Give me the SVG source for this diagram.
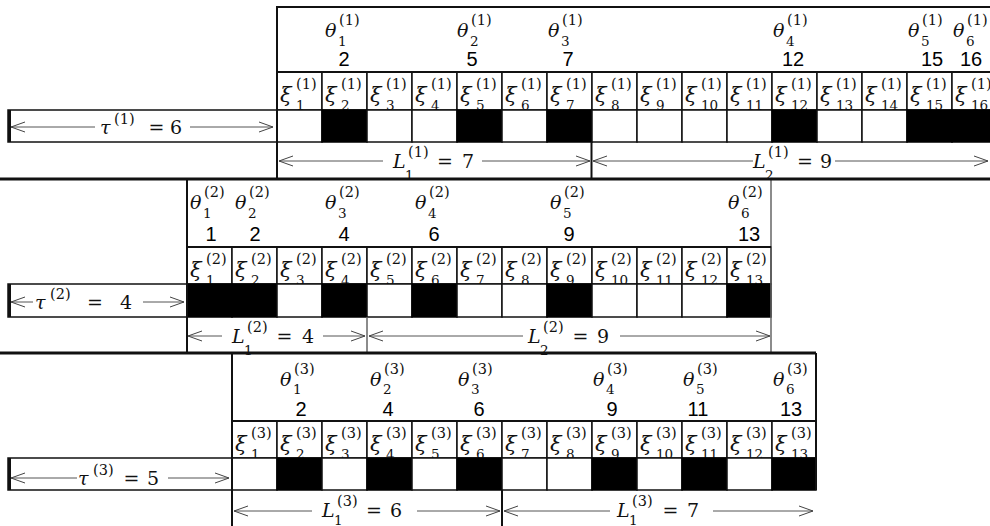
<svg xmlns="http://www.w3.org/2000/svg" width="990" height="526" viewBox="0 0 990 526">
<style>
.c{fill:#fff;stroke:#111;stroke-width:1.5}
.k{fill:#000;stroke:#000;stroke-width:1.5}
.ln{stroke:#111;stroke-width:2;fill:none}
.th{stroke:#111;stroke-width:3;fill:none}
.gl{stroke:#666;stroke-width:1.5;fill:none}
.m{font-family:"DejaVu Serif",serif;font-style:italic;font-size:19px;fill:#111}
.x{font-family:"DejaVu Serif",serif;font-style:italic;font-size:21px;fill:#111}
.sp{font-family:"DejaVu Serif",serif;font-size:14.5px;fill:#111}
.sb{font-family:"DejaVu Serif",serif;font-size:13.5px;fill:#111}
.n{font-family:"Liberation Sans",Arial,sans-serif;font-size:20px;text-anchor:middle;fill:#000}
.eq{font-family:"DejaVu Serif",serif;font-size:19px;text-anchor:middle;fill:#111}
.d{font-family:"DejaVu Serif",serif;font-size:19px;fill:#111}
.a{stroke:#555;stroke-width:1;fill:none;marker-end:url(#ah)}
</style>
<defs>
<marker id="ah" markerWidth="16" markerHeight="12" refX="15" refY="6" orient="auto" markerUnits="userSpaceOnUse"><path d="M1,1 L15,6 L1,11" fill="none" stroke="#444" stroke-width="1"/></marker>
</defs>
<rect width="990" height="526" fill="#fff"/>

<!-- ===== Section 1 ===== -->
<g id="section1">
<g id="s1-xi">
<rect class="c" x="277" y="72" width="45" height="38"/><rect class="c" x="322" y="72" width="45" height="38"/><rect class="c" x="367" y="72" width="45" height="38"/><rect class="c" x="412" y="72" width="45" height="38"/><rect class="c" x="457" y="72" width="45" height="38"/><rect class="c" x="502" y="72" width="45" height="38"/><rect class="c" x="547" y="72" width="45" height="38"/><rect class="c" x="592" y="72" width="45" height="38"/><rect class="c" x="637" y="72" width="45" height="38"/><rect class="c" x="682" y="72" width="45" height="38"/><rect class="c" x="727" y="72" width="45" height="38"/><rect class="c" x="772" y="72" width="45" height="38"/><rect class="c" x="817" y="72" width="45" height="38"/><rect class="c" x="862" y="72" width="45" height="38"/><rect class="c" x="907" y="72" width="45" height="38"/><rect class="c" x="952" y="72" width="45" height="38"/>
<text><tspan class="x" x="280" y="102">ξ</tspan><tspan class="sp" x="296" y="89">(1)</tspan><tspan class="sb" x="296" y="110">1</tspan></text>
<text><tspan class="x" x="325" y="102">ξ</tspan><tspan class="sp" x="341" y="89">(1)</tspan><tspan class="sb" x="341" y="110">2</tspan></text>
<text><tspan class="x" x="370" y="102">ξ</tspan><tspan class="sp" x="386" y="89">(1)</tspan><tspan class="sb" x="386" y="110">3</tspan></text>
<text><tspan class="x" x="415" y="102">ξ</tspan><tspan class="sp" x="431" y="89">(1)</tspan><tspan class="sb" x="431" y="110">4</tspan></text>
<text><tspan class="x" x="460" y="102">ξ</tspan><tspan class="sp" x="476" y="89">(1)</tspan><tspan class="sb" x="476" y="110">5</tspan></text>
<text><tspan class="x" x="505" y="102">ξ</tspan><tspan class="sp" x="521" y="89">(1)</tspan><tspan class="sb" x="521" y="110">6</tspan></text>
<text><tspan class="x" x="550" y="102">ξ</tspan><tspan class="sp" x="566" y="89">(1)</tspan><tspan class="sb" x="566" y="110">7</tspan></text>
<text><tspan class="x" x="595" y="102">ξ</tspan><tspan class="sp" x="611" y="89">(1)</tspan><tspan class="sb" x="611" y="110">8</tspan></text>
<text><tspan class="x" x="640" y="102">ξ</tspan><tspan class="sp" x="656" y="89">(1)</tspan><tspan class="sb" x="656" y="110">9</tspan></text>
<text><tspan class="x" x="685" y="102">ξ</tspan><tspan class="sp" x="701" y="89">(1)</tspan><tspan class="sb" x="701" y="110">10</tspan></text>
<text><tspan class="x" x="730" y="102">ξ</tspan><tspan class="sp" x="746" y="89">(1)</tspan><tspan class="sb" x="746" y="110">11</tspan></text>
<text><tspan class="x" x="775" y="102">ξ</tspan><tspan class="sp" x="791" y="89">(1)</tspan><tspan class="sb" x="791" y="110">12</tspan></text>
<text><tspan class="x" x="820" y="102">ξ</tspan><tspan class="sp" x="836" y="89">(1)</tspan><tspan class="sb" x="836" y="110">13</tspan></text>
<text><tspan class="x" x="865" y="102">ξ</tspan><tspan class="sp" x="881" y="89">(1)</tspan><tspan class="sb" x="881" y="110">14</tspan></text>
<text><tspan class="x" x="910" y="102">ξ</tspan><tspan class="sp" x="926" y="89">(1)</tspan><tspan class="sb" x="926" y="110">15</tspan></text>
<text><tspan class="x" x="955" y="102">ξ</tspan><tspan class="sp" x="971" y="89">(1)</tspan><tspan class="sb" x="971" y="110">16</tspan></text>
</g>
<g id="s1-data">
<rect class="c" x="277" y="110" width="45" height="32"/><rect class="k" x="322" y="110" width="45" height="32"/><rect class="c" x="367" y="110" width="45" height="32"/><rect class="c" x="412" y="110" width="45" height="32"/><rect class="k" x="457" y="110" width="45" height="32"/><rect class="c" x="502" y="110" width="45" height="32"/><rect class="k" x="547" y="110" width="45" height="32"/><rect class="c" x="592" y="110" width="45" height="32"/><rect class="c" x="637" y="110" width="45" height="32"/><rect class="c" x="682" y="110" width="45" height="32"/><rect class="c" x="727" y="110" width="45" height="32"/><rect class="k" x="772" y="110" width="45" height="32"/><rect class="c" x="817" y="110" width="45" height="32"/><rect class="c" x="862" y="110" width="45" height="32"/><rect class="k" x="907" y="110" width="45" height="32"/><rect class="k" x="952" y="110" width="45" height="32"/>
</g>
<g id="s1-tau">
<rect class="c" x="8" y="110" width="269" height="32"/>
<line class="th" x1="9.5" y1="110" x2="9.5" y2="142"/>
</g>
<g id="s1-frame">
<line class="ln" x1="277" y1="7" x2="990" y2="7"/>
<line class="ln" x1="277" y1="6" x2="277" y2="179"/>
<line class="ln" x1="277" y1="72" x2="990" y2="72"/>
<line class="ln" x1="591.5" y1="142" x2="591.5" y2="179"/>
</g>
<g id="s1-theta">
<text><tspan class="m" x="325" y="37">θ</tspan><tspan class="sp" x="339" y="25">(1)</tspan><tspan class="sb" x="338" y="46">1</tspan></text><text class="n" x="344" y="66">2</text>
<text><tspan class="m" x="457" y="37">θ</tspan><tspan class="sp" x="471" y="25">(1)</tspan><tspan class="sb" x="470" y="46">2</tspan></text><text class="n" x="472" y="66">5</text>
<text><tspan class="m" x="548" y="37">θ</tspan><tspan class="sp" x="562" y="25">(1)</tspan><tspan class="sb" x="561" y="46">3</tspan></text><text class="n" x="568" y="66">7</text>
<text><tspan class="m" x="773" y="37">θ</tspan><tspan class="sp" x="787" y="25">(1)</tspan><tspan class="sb" x="786" y="46">4</tspan></text><text class="n" x="793" y="66">12</text>
<text><tspan class="m" x="908" y="37">θ</tspan><tspan class="sp" x="922" y="25">(1)</tspan><tspan class="sb" x="921" y="46">5</tspan></text><text class="n" x="932" y="66">15</text>
<text><tspan class="m" x="953" y="37">θ</tspan><tspan class="sp" x="967" y="25">(1)</tspan><tspan class="sb" x="966" y="46">6</tspan></text><text class="n" x="971" y="66">16</text>
</g>
</g>

<!-- ===== Section 2 ===== -->
<g id="section2">
<g id="s2-xi">
<rect class="c" x="187" y="247" width="45" height="37"/><rect class="c" x="232" y="247" width="45" height="37"/><rect class="c" x="277" y="247" width="45" height="37"/><rect class="c" x="322" y="247" width="45" height="37"/><rect class="c" x="367" y="247" width="45" height="37"/><rect class="c" x="412" y="247" width="45" height="37"/><rect class="c" x="457" y="247" width="45" height="37"/><rect class="c" x="502" y="247" width="45" height="37"/><rect class="c" x="547" y="247" width="45" height="37"/><rect class="c" x="592" y="247" width="45" height="37"/><rect class="c" x="637" y="247" width="45" height="37"/><rect class="c" x="682" y="247" width="45" height="37"/><rect class="c" x="727" y="247" width="44" height="37"/>
<text><tspan class="x" x="190" y="277">ξ</tspan><tspan class="sp" x="206" y="264">(2)</tspan><tspan class="sb" x="206" y="285">1</tspan></text>
<text><tspan class="x" x="235" y="277">ξ</tspan><tspan class="sp" x="251" y="264">(2)</tspan><tspan class="sb" x="251" y="285">2</tspan></text>
<text><tspan class="x" x="280" y="277">ξ</tspan><tspan class="sp" x="296" y="264">(2)</tspan><tspan class="sb" x="296" y="285">3</tspan></text>
<text><tspan class="x" x="325" y="277">ξ</tspan><tspan class="sp" x="341" y="264">(2)</tspan><tspan class="sb" x="341" y="285">4</tspan></text>
<text><tspan class="x" x="370" y="277">ξ</tspan><tspan class="sp" x="386" y="264">(2)</tspan><tspan class="sb" x="386" y="285">5</tspan></text>
<text><tspan class="x" x="415" y="277">ξ</tspan><tspan class="sp" x="431" y="264">(2)</tspan><tspan class="sb" x="431" y="285">6</tspan></text>
<text><tspan class="x" x="460" y="277">ξ</tspan><tspan class="sp" x="476" y="264">(2)</tspan><tspan class="sb" x="476" y="285">7</tspan></text>
<text><tspan class="x" x="505" y="277">ξ</tspan><tspan class="sp" x="521" y="264">(2)</tspan><tspan class="sb" x="521" y="285">8</tspan></text>
<text><tspan class="x" x="550" y="277">ξ</tspan><tspan class="sp" x="566" y="264">(2)</tspan><tspan class="sb" x="566" y="285">9</tspan></text>
<text><tspan class="x" x="595" y="277">ξ</tspan><tspan class="sp" x="611" y="264">(2)</tspan><tspan class="sb" x="611" y="285">10</tspan></text>
<text><tspan class="x" x="640" y="277">ξ</tspan><tspan class="sp" x="656" y="264">(2)</tspan><tspan class="sb" x="656" y="285">11</tspan></text>
<text><tspan class="x" x="685" y="277">ξ</tspan><tspan class="sp" x="701" y="264">(2)</tspan><tspan class="sb" x="701" y="285">12</tspan></text>
<text><tspan class="x" x="730" y="277">ξ</tspan><tspan class="sp" x="746" y="264">(2)</tspan><tspan class="sb" x="746" y="285">13</tspan></text>
</g>
<g id="s2-data">
<rect class="k" x="187" y="284" width="45" height="33"/><rect class="k" x="232" y="284" width="45" height="33"/><rect class="c" x="277" y="284" width="45" height="33"/><rect class="k" x="322" y="284" width="45" height="33"/><rect class="c" x="367" y="284" width="45" height="33"/><rect class="k" x="412" y="284" width="45" height="33"/><rect class="c" x="457" y="284" width="45" height="33"/><rect class="c" x="502" y="284" width="45" height="33"/><rect class="k" x="547" y="284" width="45" height="33"/><rect class="c" x="592" y="284" width="45" height="33"/><rect class="c" x="637" y="284" width="45" height="33"/><rect class="c" x="682" y="284" width="45" height="33"/><rect class="k" x="727" y="284" width="44" height="33"/>
</g>
<g id="s2-tau">
<rect class="c" x="8" y="284" width="179" height="33"/>
<line class="th" x1="9.5" y1="284" x2="9.5" y2="317"/>
</g>
<g id="s2-frame">
<line class="ln" x1="187" y1="179" x2="187" y2="353"/>
<line class="gl" x1="771" y1="179" x2="771" y2="353"/>
<line class="ln" x1="187" y1="247" x2="771" y2="247"/>
<line class="gl" x1="367" y1="317" x2="367" y2="353"/>
</g>
<g id="s2-theta">
<text><tspan class="m" x="190" y="209">θ</tspan><tspan class="sp" x="204" y="197">(2)</tspan><tspan class="sb" x="203" y="218">1</tspan></text><text class="n" x="211" y="241">1</text>
<text><tspan class="m" x="235" y="209">θ</tspan><tspan class="sp" x="249" y="197">(2)</tspan><tspan class="sb" x="248" y="218">2</tspan></text><text class="n" x="255" y="241">2</text>
<text><tspan class="m" x="325" y="209">θ</tspan><tspan class="sp" x="339" y="197">(2)</tspan><tspan class="sb" x="338" y="218">3</tspan></text><text class="n" x="344" y="241">4</text>
<text><tspan class="m" x="415" y="209">θ</tspan><tspan class="sp" x="429" y="197">(2)</tspan><tspan class="sb" x="428" y="218">4</tspan></text><text class="n" x="434" y="241">6</text>
<text><tspan class="m" x="550" y="209">θ</tspan><tspan class="sp" x="564" y="197">(2)</tspan><tspan class="sb" x="563" y="218">5</tspan></text><text class="n" x="569" y="241">9</text>
<text><tspan class="m" x="728" y="209">θ</tspan><tspan class="sp" x="742" y="197">(2)</tspan><tspan class="sb" x="741" y="218">6</tspan></text><text class="n" x="749" y="241">13</text>
</g>
</g>

<!-- ===== Section 3 ===== -->
<g id="section3">
<g id="s3-xi">
<rect class="c" x="232" y="421" width="45" height="37"/><rect class="c" x="277" y="421" width="45" height="37"/><rect class="c" x="322" y="421" width="45" height="37"/><rect class="c" x="367" y="421" width="45" height="37"/><rect class="c" x="412" y="421" width="45" height="37"/><rect class="c" x="457" y="421" width="45" height="37"/><rect class="c" x="502" y="421" width="45" height="37"/><rect class="c" x="547" y="421" width="45" height="37"/><rect class="c" x="592" y="421" width="45" height="37"/><rect class="c" x="637" y="421" width="45" height="37"/><rect class="c" x="682" y="421" width="45" height="37"/><rect class="c" x="727" y="421" width="45" height="37"/><rect class="c" x="772" y="421" width="44" height="37"/>
<text><tspan class="x" x="235" y="451">ξ</tspan><tspan class="sp" x="251" y="438">(3)</tspan><tspan class="sb" x="251" y="459">1</tspan></text>
<text><tspan class="x" x="280" y="451">ξ</tspan><tspan class="sp" x="296" y="438">(3)</tspan><tspan class="sb" x="296" y="459">2</tspan></text>
<text><tspan class="x" x="325" y="451">ξ</tspan><tspan class="sp" x="341" y="438">(3)</tspan><tspan class="sb" x="341" y="459">3</tspan></text>
<text><tspan class="x" x="370" y="451">ξ</tspan><tspan class="sp" x="386" y="438">(3)</tspan><tspan class="sb" x="386" y="459">4</tspan></text>
<text><tspan class="x" x="415" y="451">ξ</tspan><tspan class="sp" x="431" y="438">(3)</tspan><tspan class="sb" x="431" y="459">5</tspan></text>
<text><tspan class="x" x="460" y="451">ξ</tspan><tspan class="sp" x="476" y="438">(3)</tspan><tspan class="sb" x="476" y="459">6</tspan></text>
<text><tspan class="x" x="505" y="451">ξ</tspan><tspan class="sp" x="521" y="438">(3)</tspan><tspan class="sb" x="521" y="459">7</tspan></text>
<text><tspan class="x" x="550" y="451">ξ</tspan><tspan class="sp" x="566" y="438">(3)</tspan><tspan class="sb" x="566" y="459">8</tspan></text>
<text><tspan class="x" x="595" y="451">ξ</tspan><tspan class="sp" x="611" y="438">(3)</tspan><tspan class="sb" x="611" y="459">9</tspan></text>
<text><tspan class="x" x="640" y="451">ξ</tspan><tspan class="sp" x="656" y="438">(3)</tspan><tspan class="sb" x="656" y="459">10</tspan></text>
<text><tspan class="x" x="685" y="451">ξ</tspan><tspan class="sp" x="701" y="438">(3)</tspan><tspan class="sb" x="701" y="459">11</tspan></text>
<text><tspan class="x" x="730" y="451">ξ</tspan><tspan class="sp" x="746" y="438">(3)</tspan><tspan class="sb" x="746" y="459">12</tspan></text>
<text><tspan class="x" x="775" y="451">ξ</tspan><tspan class="sp" x="791" y="438">(3)</tspan><tspan class="sb" x="791" y="459">13</tspan></text>
</g>
<g id="s3-data">
<rect class="c" x="232" y="458" width="45" height="32"/><rect class="k" x="277" y="458" width="45" height="32"/><rect class="c" x="322" y="458" width="45" height="32"/><rect class="k" x="367" y="458" width="45" height="32"/><rect class="c" x="412" y="458" width="45" height="32"/><rect class="k" x="457" y="458" width="45" height="32"/><rect class="c" x="502" y="458" width="45" height="32"/><rect class="c" x="547" y="458" width="45" height="32"/><rect class="k" x="592" y="458" width="45" height="32"/><rect class="c" x="637" y="458" width="45" height="32"/><rect class="k" x="682" y="458" width="45" height="32"/><rect class="c" x="727" y="458" width="45" height="32"/><rect class="k" x="772" y="458" width="44" height="32"/>
</g>
<g id="s3-tau">
<rect class="c" x="8" y="458" width="224" height="32"/>
<line class="th" x1="9.5" y1="458" x2="9.5" y2="490"/>
</g>
<g id="s3-frame">
<line class="ln" x1="232" y1="353" x2="232" y2="526"/>
<line class="ln" x1="816" y1="353" x2="816" y2="490"/>
<line class="ln" x1="232" y1="421" x2="816" y2="421"/>
<line class="ln" x1="502" y1="490" x2="502" y2="526"/>
</g>
<g id="s3-theta">
<text><tspan class="m" x="280" y="386">θ</tspan><tspan class="sp" x="294" y="374">(3)</tspan><tspan class="sb" x="293" y="394">1</tspan></text><text class="n" x="301" y="416">2</text>
<text><tspan class="m" x="370" y="386">θ</tspan><tspan class="sp" x="384" y="374">(3)</tspan><tspan class="sb" x="383" y="394">2</tspan></text><text class="n" x="388" y="416">4</text>
<text><tspan class="m" x="458" y="386">θ</tspan><tspan class="sp" x="472" y="374">(3)</tspan><tspan class="sb" x="471" y="394">3</tspan></text><text class="n" x="479" y="416">6</text>
<text><tspan class="m" x="593" y="386">θ</tspan><tspan class="sp" x="607" y="374">(3)</tspan><tspan class="sb" x="606" y="394">4</tspan></text><text class="n" x="612" y="416">9</text>
<text><tspan class="m" x="683" y="386">θ</tspan><tspan class="sp" x="697" y="374">(3)</tspan><tspan class="sb" x="696" y="394">5</tspan></text><text class="n" x="698" y="416">11</text>
<text><tspan class="m" x="773" y="386">θ</tspan><tspan class="sp" x="787" y="374">(3)</tspan><tspan class="sb" x="786" y="394">6</tspan></text><text class="n" x="791" y="416">13</text>
</g>
</g>

<!-- separators -->
<g id="separators">
<line class="th" x1="0" y1="179" x2="990" y2="179"/>
<line class="th" x1="0" y1="353" x2="816" y2="353"/>
</g>

<!-- connectors (dimension arrows) -->
<g id="connectors">
<line class="a" x1="95" y1="127" x2="11" y2="127"/><line class="a" x1="190" y1="127" x2="273" y2="127"/>
<line class="a" x1="383" y1="161" x2="279" y2="161"/><line class="a" x1="482" y1="161" x2="590" y2="161"/>
<line class="a" x1="753" y1="161" x2="593" y2="161"/><line class="a" x1="835" y1="161" x2="988" y2="161"/>
<line class="a" x1="33" y1="302" x2="11" y2="302"/><line class="a" x1="143" y1="302" x2="184" y2="302"/>
<line class="a" x1="222" y1="336" x2="188" y2="336"/><line class="a" x1="323" y1="336" x2="365" y2="336"/>
<line class="a" x1="523" y1="336" x2="369" y2="336"/><line class="a" x1="620" y1="336" x2="770" y2="336"/>
<line class="a" x1="77" y1="478" x2="11" y2="478"/><line class="a" x1="168" y1="478" x2="229" y2="478"/>
<line class="a" x1="312" y1="511" x2="234" y2="511"/><line class="a" x1="417" y1="511" x2="500" y2="511"/>
<line class="a" x1="610" y1="511" x2="504" y2="511"/><line class="a" x1="713" y1="511" x2="813" y2="511"/>
</g>

<!-- dimension labels -->
<g id="labels">
<text><tspan class="m" x="100" y="134">τ</tspan><tspan class="sp" x="114" y="124">(1)</tspan></text><text class="eq" x="156.5" y="134">=</text><text class="d" x="170" y="134">6</text>
<text><tspan class="m" x="393" y="168">L</tspan><tspan class="sp" x="408" y="157">(1)</tspan><tspan class="sb" x="405" y="180">1</tspan></text><text class="eq" x="445" y="168">=</text><text class="d" x="462" y="168">7</text>
<text><tspan class="m" x="753" y="168">L</tspan><tspan class="sp" x="768" y="157">(1)</tspan><tspan class="sb" x="765" y="180">2</tspan></text><text class="eq" x="805" y="168">=</text><text class="d" x="820" y="168">9</text>
<text><tspan class="m" x="35" y="309">τ</tspan><tspan class="sp" x="50" y="299">(2)</tspan></text><text class="eq" x="95" y="309">=</text><text class="d" x="120" y="309">4</text>
<text><tspan class="m" x="232" y="343">L</tspan><tspan class="sp" x="247" y="332">(2)</tspan><tspan class="sb" x="244" y="355">1</tspan></text><text class="eq" x="284.5" y="343">=</text><text class="d" x="302" y="343">4</text>
<text><tspan class="m" x="528" y="343">L</tspan><tspan class="sp" x="543" y="332">(2)</tspan><tspan class="sb" x="540" y="355">2</tspan></text><text class="eq" x="580.5" y="343">=</text><text class="d" x="597" y="343">9</text>
<text><tspan class="m" x="78" y="485">τ</tspan><tspan class="sp" x="93" y="475">(3)</tspan></text><text class="eq" x="131.5" y="485">=</text><text class="d" x="147" y="485">5</text>
<text><tspan class="m" x="322" y="517">L</tspan><tspan class="sp" x="337" y="506">(3)</tspan><tspan class="sb" x="334" y="525">1</tspan></text><text class="eq" x="374" y="517">=</text><text class="d" x="390" y="517">6</text>
<text><tspan class="m" x="617" y="517">L</tspan><tspan class="sp" x="632" y="506">(3)</tspan><tspan class="sb" x="629" y="525">1</tspan></text><text class="eq" x="670.5" y="517">=</text><text class="d" x="687" y="517">7</text>
</g>
</svg>
